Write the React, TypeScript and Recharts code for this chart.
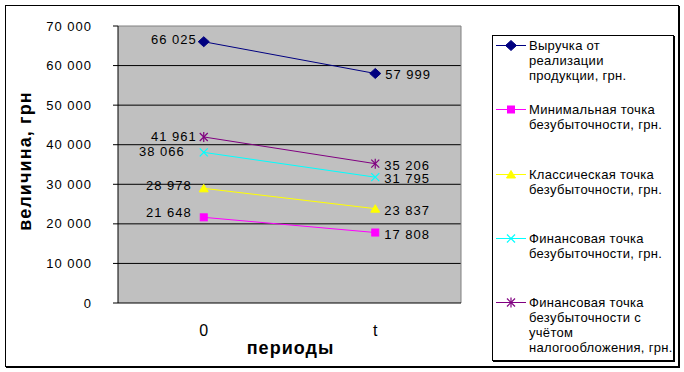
import React from 'react';
import {
  LineChart, Line, XAxis, YAxis, CartesianGrid, LabelList, ReferenceLine, Label,
} from 'recharts';

const categories = ['0', 't'];
const revenue = [66025, 57999];
const minimalBE = [21648, 17808];
const classicBE = [28978, 23837];
const financialBE = [38066, 31795];
const financialTaxBE = [41961, 35206];
const yTicks = [0, 10000, 20000, 30000, 40000, 50000, 60000, 70000];
const gridValues = [10000, 20000, 30000, 40000, 50000, 60000];

const seriesNames = [
  'Выручка от реализации продукции, грн.',
  'Минимальная точка безубыточности, грн.',
  'Классическая точка безубыточности, грн.',
  'Финансовая точка безубыточности, грн.',
  'Финансовая точка безубыточности с учётом налогообложения, грн.',
];

const legendLines = [
  ['Выручка от', 'реализации', 'продукции, грн.'],
  ['Минимальная точка', 'безубыточности, грн.'],
  ['Классическая точка', 'безубыточности, грн.'],
  ['Финансовая точка', 'безубыточности, грн.'],
  ['Финансовая точка', 'безубыточности с', 'учётом', 'налогообложения, грн.'],
];

const data = categories.map((c, i) => ({
  pos: i + 0.5,
  cat: c,
  revenue: revenue[i],
  minimalBE: minimalBE[i],
  classicBE: classicBE[i],
  financialBE: financialBE[i],
  financialTaxBE: financialTaxBE[i],
}));

type Shape = 'diamond' | 'square' | 'triangle' | 'x' | 'star';

const series: { key: string; name: string; color: string; shape: Shape; ldx: number; ldy: number; rdx: number; rdy: number }[] = [
  { key: 'revenue', name: seriesNames[0], color: '#000080', shape: 'diamond', ldx: -7, ldy: 2, rdx: 10, rdy: 6 },
  { key: 'minimalBE', name: seriesNames[1], color: '#FF00FF', shape: 'square', ldx: -12, ldy: 0, rdx: 9, rdy: 6 },
  { key: 'classicBE', name: seriesNames[2], color: '#FFFF00', shape: 'triangle', ldx: -12, ldy: 2, rdx: 9, rdy: 6 },
  { key: 'financialBE', name: seriesNames[3], color: '#00FFFF', shape: 'x', ldx: -19, ldy: 4, rdx: 9, rdy: 6 },
  { key: 'financialTaxBE', name: seriesNames[4], color: '#800080', shape: 'star', ldx: -7, ldy: 4, rdx: 9, rdy: 6 },
];

const FONT = 'Arial, "Liberation Sans", sans-serif';
const fmt = (v: number) => String(v).replace(/\B(?=(\d{3})+(?!\d))/g, ' ');

function Marker({ shape, cx, cy, color }: { shape: Shape; cx: number; cy: number; color: string }) {
  switch (shape) {
    case 'diamond':
      return <polygon points={`${cx},${cy - 5} ${cx + 5.5},${cy} ${cx},${cy + 5} ${cx - 5.5},${cy}`} fill={color} stroke={color} strokeWidth={1} />;
    case 'square':
      return <rect x={cx - 3.5} y={cy - 3.5} width={7} height={7} fill={color} stroke={color} strokeWidth={1} />;
    case 'triangle':
      return <polygon points={`${cx},${cy - 4} ${cx + 4.5},${cy + 3.5} ${cx - 4.5},${cy + 3.5}`} fill={color} stroke={color} strokeWidth={1} />;
    case 'x':
      return (
        <g stroke={color} strokeWidth={1.2}>
          <line x1={cx - 4} y1={cy - 4} x2={cx + 4} y2={cy + 4} />
          <line x1={cx - 4} y1={cy + 4} x2={cx + 4} y2={cy - 4} />
        </g>
      );
    case 'star':
    default:
      return (
        <g stroke={color} strokeWidth={1.2}>
          <line x1={cx - 4} y1={cy - 4} x2={cx + 4} y2={cy + 4} />
          <line x1={cx - 4} y1={cy + 4} x2={cx + 4} y2={cy - 4} />
          <line x1={cx} y1={cy - 5} x2={cx} y2={cy + 5} />
        </g>
      );
  }
}

function LegendBox() {
  return (
    <div
      style={{
        position: 'absolute', left: 492, top: 35,
        width: 182, height: 326, boxSizing: 'border-box', border: '1px solid #000',
        boxShadow: '1px 1px 0 #000', background: '#fff',
        fontFamily: FONT, fontSize: 13, lineHeight: '15px', color: '#000', letterSpacing: 0.3,
      }}
    >
      {series.map((s, i) => (
        <div key={s.key} style={{ position: 'absolute', left: 0, top: 2 + i * 64.25, width: 180 }} title={s.name}>
          <svg width={32} height={15} style={{ position: 'absolute', left: 3, top: 0 }}>
            <line x1={0} y1={7.5} x2={30} y2={7.5} stroke={s.color} strokeWidth={1} />
            <Marker shape={s.shape} cx={15} cy={7.5} color={s.color} />
          </svg>
          <div style={{ position: 'absolute', left: 36, top: 0, width: 150, textAlign: 'left', whiteSpace: 'nowrap' }}>
            {legendLines[i].map((ln, j) => (
              <div key={j}>{ln}</div>
            ))}
          </div>
        </div>
      ))}
    </div>
  );
}

export default function App() {
  return (
    <div style={{ position: 'absolute', left: 0, top: 0, width: 684, height: 372 }}>
      <div
        style={{
          position: 'absolute', left: 5, top: 5, width: 674, height: 362, boxSizing: 'border-box',
          border: '1px solid #000', boxShadow: '1px 1px 0 #000', background: '#fff',
        }}
      />
      <div style={{ position: 'absolute', left: 0, top: 0 }}>
        <LineChart
          width={684}
          height={372}
          data={data}
          margin={{ top: 26, right: 223, bottom: 0, left: 0 }}
          style={{ fontFamily: FONT }}
        >
          <CartesianGrid
            horizontal
            vertical={false}
            fill="#C0C0C0"
            stroke="#000"
            strokeOpacity={1}
            xAxisId="a"
            horizontalValues={gridValues}
          />
          <XAxis
            xAxisId="a"
            dataKey="pos"
            type="number"
            domain={[0, 2]}
            ticks={[0, 1, 2]}
            interval={0}
            tick={false}
            tickSize={5}
            height={5}
            axisLine={{ stroke: '#000' }}
            tickLine={{ stroke: '#000' }}
          />
          <XAxis
            xAxisId="b"
            dataKey="pos"
            type="number"
            domain={[0, 2]}
            ticks={[0.5, 1.5]}
            interval={0}
            tickFormatter={(v: number) => categories[Math.floor(v)]}
            tick={{ fontSize: 16, fill: '#000', fontFamily: FONT }}
            tickSize={0}
            tickMargin={17}
            height={64}
            axisLine={false}
            tickLine={false}
          >
            <Label
              content={(p: any) => {
                const vb = p.viewBox || {};
                return (
                  <text x={vb.x + vb.width / 2 + 1} y={vb.y + 46} textAnchor="middle" fontSize={18} fontWeight="bold" fill="#000" letterSpacing={1} fontFamily={FONT}>
                    периоды
                  </text>
                );
              }}
            />
          </XAxis>
          <YAxis
            type="number"
            domain={[0, 70000]}
            ticks={yTicks}
            interval={0}
            width={118}
            tickSize={5}
            tickMargin={21}
            tickFormatter={fmt}
            tick={{ fontSize: 13, fill: '#000', fontFamily: FONT, letterSpacing: 1 }}
            axisLine={{ stroke: '#000' }}
            tickLine={{ stroke: '#000' }}
          >
            <Label
              content={(p: any) => {
                const vb = p.viewBox || {};
                const x = vb.x + 31;
                const y = vb.y + vb.height / 2 - 3.5;
                return (
                  <text x={x} y={y} transform={`rotate(-90 ${x} ${y})`} textAnchor="middle" fontSize={18} fontWeight="bold" fill="#000" letterSpacing={1.1} fontFamily={FONT}>
                    величина, грн
                  </text>
                );
              }}
            />
          </YAxis>
          <ReferenceLine xAxisId="a" y={70000} stroke="#808080" strokeWidth={1} />
          <ReferenceLine xAxisId="a" x={2} stroke="#808080" strokeWidth={1} />
          {series.map((s) => (
            <Line
              key={s.key}
              xAxisId="a"
              type="linear"
              dataKey={s.key}
              name={s.name}
              stroke={s.color}
              strokeWidth={1}
              isAnimationActive={false}
              dot={(p: any) => <Marker key={`${s.key}-${p.index}`} shape={s.shape} cx={p.cx} cy={p.cy} color={s.color} />}
              activeDot={false}
            >
              <LabelList
                dataKey={s.key}
                content={(p: any) => {
                  const x = p.x ?? p.viewBox?.x;
                  const y = p.y ?? p.viewBox?.y;
                  const left = p.index === 0;
                  return (
                    <text
                      x={x + (left ? s.ldx : s.rdx)}
                      y={y + (left ? s.ldy : s.rdy)}
                      textAnchor={left ? 'end' : 'start'}
                      fontSize={13}
                      fill="#000"
                      letterSpacing={1}
                      fontFamily={FONT}
                    >
                      {fmt(Number(p.value))}
                    </text>
                  );
                }}
              />
            </Line>
          ))}
        </LineChart>
      </div>
      <LegendBox />
    </div>
  );
}
